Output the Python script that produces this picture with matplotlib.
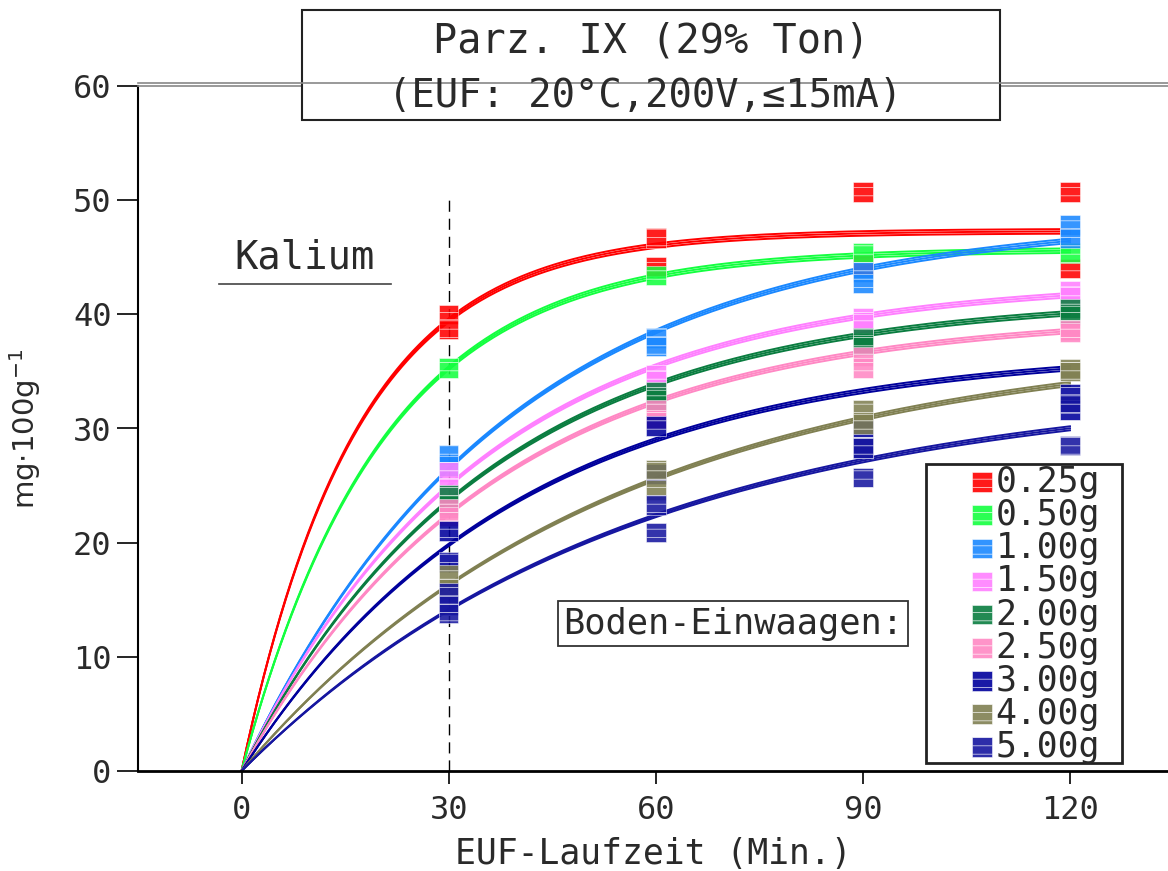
import numpy as np
import matplotlib
matplotlib.use("Agg")
import matplotlib.pyplot as plt
from matplotlib.patches import Rectangle
from matplotlib.lines import Line2D

plt.rcParams['font.family'] = ['DejaVu Sans Mono', 'DejaVu Sans']
plt.rcParams['hatch.linewidth'] = 0.5

# EUF-Laufzeit (Min.) der Fraktionen
zeit = [30, 60, 90, 120]

einwaagen = ['0.25g', '0.50g', '1.00g', '1.50g', '2.00g', '2.50g', '3.00g', '4.00g', '5.00g']
farben = ['#ff0000', '#14ff40', '#1a88ff', '#ff80ff', '#0a7d40',
          '#ff88c4', '#00009c', '#808052', '#1616a0']

# Messwerte K (mg/100g), je Zeitpunkt die Wiederholungen
k_025 = [[40.0, 38.7], [46.7, 44.2], [50.7, 44.3], [50.7, 44.0]]
k_050 = [[35.3], [43.4], [45.4], [45.4]]
k_100 = [[27.7, 26.7], [37.9, 37.2], [43.7, 42.7], [47.8, 46.7]]
k_150 = [[26.2, 24.8], [34.7, 34.2], [39.7, 39.2], [42.1, 41.6]]
k_200 = [[24.2, 23.3], [33.2, 32.5], [37.9, 37.3], [40.5, 39.9]]
k_250 = [[23.0, 22.3], [31.6, 30.8], [36.3, 35.3], [38.6, 38.4]]
k_300 = [[21.0, 18.3], [30.2, 26.0], [30.1, 28.3], [33.0, 31.6]]
k_400 = [[17.2, 16.0], [26.4, 24.6], [31.6, 30.4], [35.2, 35.0]]
k_500 = [[15.6, 14.5, 13.8], [23.3, 20.9], [28.3, 25.7], [28.5, 32.2]]
messwerte = [k_025, k_050, k_100, k_150, k_200, k_250, k_300, k_400, k_500]

# Anpassung K(t) = a * (1 - exp(-b t))
fit_a = [47.3, 45.7, 48.5, 43.0, 41.5, 40.0, 37.0, 37.9, 34.0]
fit_b = [0.060, 0.0493, 0.0263, 0.0290, 0.0282, 0.02755, 0.02553, 0.01874, 0.01787]

fig = plt.figure(figsize=(11.68, 8.71), dpi=100)
ax = fig.add_axes([138 / 1168, 100 / 871, 1 - 138 / 1168, 685 / 871])

tt = np.linspace(0, 120, 300)
for a, b, col in zip(fit_a, fit_b, farben):
    for d in (-0.2, 0.0, 0.2):
        ax.plot(tt, (a + d) * (1 - np.exp(-b * tt)), color=col, lw=1.4, zorder=2)

for werte, col in zip(messwerte, farben):
    xs, ys = [], []
    for t, reihe in zip(zeit, werte):
        for v in reihe:
            xs.append(t)
            ys.append(v)
    ax.scatter(xs, ys, marker='s', s=200, facecolor=col, edgecolor='#ffffffb0',
               linewidth=0.4, hatch='--', alpha=0.88, zorder=3)

ax.plot([30, 30], [0, 50], color='black', lw=1, ls=(0, (8, 5)), zorder=1)

ax.set_xlim(-15, 134.2)
ax.set_ylim(0, 60)
ax.set_xticks([0, 30, 60, 90, 120])
ax.set_yticks([0, 10, 20, 30, 40, 50, 60])
ax.tick_params(axis='both', labelsize=23, direction='out', color='black')
ax.tick_params(axis='y', length=15, width=1.2, pad=4)
ax.tick_params(axis='x', length=9, width=1.2, pad=8)
for lab in ax.get_xticklabels() + ax.get_yticklabels():
    lab.set_color('#2a2a2a')

ax.spines['right'].set_visible(False)
ax.spines['top'].set_color('#888888')
ax.spines['top'].set_linewidth(1.2)
ax.spines['left'].set_linewidth(1.5)
ax.spines['bottom'].set_linewidth(2)

ax.set_xlabel('EUF-Laufzeit (Min.)', fontsize=25, color='#2a2a2a', labelpad=8)
ax.set_ylabel(r'mg$\cdot$100g$^{-1}$', fontsize=21, color='#2a2a2a', labelpad=22,
              family='DejaVu Sans')

fig.add_artist(Line2D([138 / 1168, 1], [1 - 83 / 871, 1 - 83 / 871],
                      color='#888888', lw=1.2))

# Kalium
ax.text(9.1, 45.0, 'Kalium', fontsize=28, ha='center', va='center', color='#2a2a2a')
ax.plot([-3.3, 21.6], [42.7, 42.7], color='#444444', lw=1.2)

# Boden-Einwaagen Box
ax.text(71.2, 12.9, 'Boden-Einwaagen:', fontsize=25.5, ha='center', va='center',
        color='#2a2a2a',
        bbox=dict(boxstyle='square,pad=0.15', facecolor='white', edgecolor='#333333', lw=1.3))

# Legende
ax.add_patch(Rectangle((99.2, 0.7), 28.3, 26.2, facecolor='white',
                       edgecolor='#222222', lw=2, zorder=4))
for i, (lab, col) in enumerate(zip(einwaagen, farben)):
    y = 25.3 - i * 2.9
    ax.scatter([107.3], [y], marker='s', s=200, facecolor=col, edgecolor='#ffffffb0',
               linewidth=0.4, hatch='--', alpha=0.9, zorder=5)
    ax.text(109.2, y, lab, fontsize=25, ha='left', va='center', color='#2a2a2a', zorder=5)

# Titel Box
fig.add_artist(Rectangle((302 / 1168, 1 - 120 / 871), 698 / 1168, 110 / 871,
                         transform=fig.transFigure, facecolor='white',
                         edgecolor='#222222', lw=1.5))
fig.text(651 / 1168, 1 - 42 / 871, 'Parz. IX (29% Ton)', fontsize=29,
         ha='center', va='center', color='#2a2a2a')
fig.text(645 / 1168, 1 - 96 / 871, '(EUF: 20°C,200V,≤15mA)', fontsize=28,
         ha='center', va='center', color='#2a2a2a')

fig.savefig('out.png', dpi=100)
